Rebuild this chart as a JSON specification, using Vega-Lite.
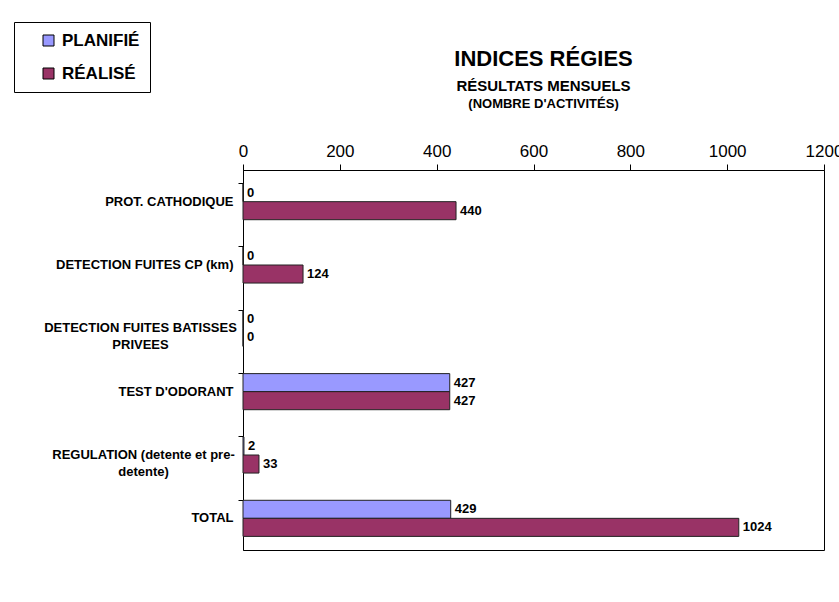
{
  "$schema": "https://vega.github.io/schema/vega-lite/v6.json",
  "width": 581,
  "height": 380,
  "autosize": {"type": "none"},
  "padding": {"left": 243, "top": 170, "right": 15, "bottom": 52},
  "background": "white",
  "title": {
    "text": "INDICES RÉGIES",
    "subtitle": "RÉSULTATS MENSUELS",
    "frame": "group",
    "anchor": "middle",
    "dx": 10,
    "dy": 75,
    "offset": 2,
    "font": "Liberation Sans",
    "fontSize": 22,
    "fontWeight": "bold",
    "color": "black",
    "subtitleFont": "Liberation Sans",
    "subtitleFontSize": 15,
    "subtitleFontWeight": "bold",
    "subtitleColor": "black",
    "subtitlePadding": 8
  },
  "data": {
    "values": [
      {"activite": "PROT. CATHODIQUE", "serie": "PLANIFIÉ", "nombre": 0},
      {"activite": "PROT. CATHODIQUE", "serie": "RÉALISÉ", "nombre": 440},
      {"activite": "DETECTION FUITES CP (km)", "serie": "PLANIFIÉ", "nombre": 0},
      {"activite": "DETECTION FUITES CP (km)", "serie": "RÉALISÉ", "nombre": 124},
      {"activite": "DETECTION FUITES BATISSES PRIVEES", "serie": "PLANIFIÉ", "nombre": 0},
      {"activite": "DETECTION FUITES BATISSES PRIVEES", "serie": "RÉALISÉ", "nombre": 0},
      {"activite": "TEST D'ODORANT", "serie": "PLANIFIÉ", "nombre": 427},
      {"activite": "TEST D'ODORANT", "serie": "RÉALISÉ", "nombre": 427},
      {"activite": "REGULATION (detente et pre-detente)", "serie": "PLANIFIÉ", "nombre": 2},
      {"activite": "REGULATION (detente et pre-detente)", "serie": "RÉALISÉ", "nombre": 33},
      {"activite": "TOTAL", "serie": "PLANIFIÉ", "nombre": 429},
      {"activite": "TOTAL", "serie": "RÉALISÉ", "nombre": 1024}
    ]
  },
  "encoding": {
    "y": {
      "field": "activite",
      "type": "nominal",
      "sort": null,
      "scale": {"paddingInner": 0.43, "paddingOuter": 0.215},
      "axis": {
        "title": null,
        "bandPosition": 0,
        "tickSize": 5,
        "tickColor": "black",
        "domainColor": "black",
        "labelAlign": {
          "condition": {"test": "datum.value == 'DETECTION FUITES BATISSES PRIVEES' || datum.value == 'REGULATION (detente et pre-detente)'", "value": "center"},
          "value": "right"
        },
        "labelPadding": {
          "condition": [
            {"test": "datum.value == 'DETECTION FUITES BATISSES PRIVEES'", "value": 98},
            {"test": "datum.value == 'REGULATION (detente et pre-detente)'", "value": 95}
          ],
          "value": 5
        },
        "labelFont": "Liberation Sans",
        "labelFontSize": 13,
        "labelFontWeight": "bold",
        "labelColor": "black",
        "labelLimit": 300,
        "labelLineHeight": 17,
        "labelExpr": "datum.label == 'DETECTION FUITES BATISSES PRIVEES' ? ['DETECTION FUITES BATISSES', 'PRIVEES'] : datum.label == 'REGULATION (detente et pre-detente)' ? ['REGULATION (detente et pre-', 'detente)'] : datum.label"
      }
    },
    "yOffset": {"field": "serie", "type": "nominal", "sort": ["PLANIFIÉ", "RÉALISÉ"]},
    "x": {
      "field": "nombre",
      "type": "quantitative",
      "scale": {"domain": [0, 1200], "nice": false},
      "axis": {
        "orient": "top",
        "values": [0, 200, 400, 600, 800, 1000, 1200],
        "format": "d",
        "grid": false,
        "tickSize": 6,
        "tickColor": "black",
        "domainColor": "black",
        "labelPadding": 4,
        "labelFont": "Liberation Sans",
        "labelFontSize": 17,
        "labelColor": "black",
        "labelFlush": false,
        "title": "(NOMBRE D'ACTIVITÉS)",
        "titleFont": "Liberation Sans",
        "titleFontSize": 13,
        "titleFontWeight": "bold",
        "titleColor": "black",
        "titleX": 300,
        "titleY": -63,
        "titleBaseline": "alphabetic"
      }
    }
  },
  "layer": [
    {
      "mark": {"type": "bar", "stroke": "#222", "strokeWidth": 1},
      "encoding": {
        "color": {
          "field": "serie",
          "type": "nominal",
          "scale": {"domain": ["PLANIFIÉ", "RÉALISÉ"], "range": ["#9999FF", "#993366"]},
          "legend": {
            "title": null,
            "orient": "none",
            "legendX": -229,
            "legendY": -148,
            "strokeColor": "black",
            "fillColor": "white",
            "padding": 10,
            "symbolType": "square",
            "symbolSize": 121,
            "symbolOffset": 16,
            "symbolStrokeColor": "black",
            "symbolStrokeWidth": 1,
            "labelOffset": 5,
            "labelFont": "Liberation Sans",
            "labelFontSize": 17,
            "labelFontWeight": "bold",
            "labelColor": "black",
            "rowPadding": 15
          }
        }
      }
    },
    {
      "mark": {
        "type": "text",
        "align": "left",
        "baseline": "middle",
        "dx": 4,
        "font": "Liberation Sans",
        "fontSize": 13,
        "fontWeight": "bold",
        "color": "black"
      },
      "encoding": {"text": {"field": "nombre", "type": "quantitative"}}
    }
  ],
  "config": {
    "view": {"stroke": "black", "strokeWidth": 1}
  }
}
